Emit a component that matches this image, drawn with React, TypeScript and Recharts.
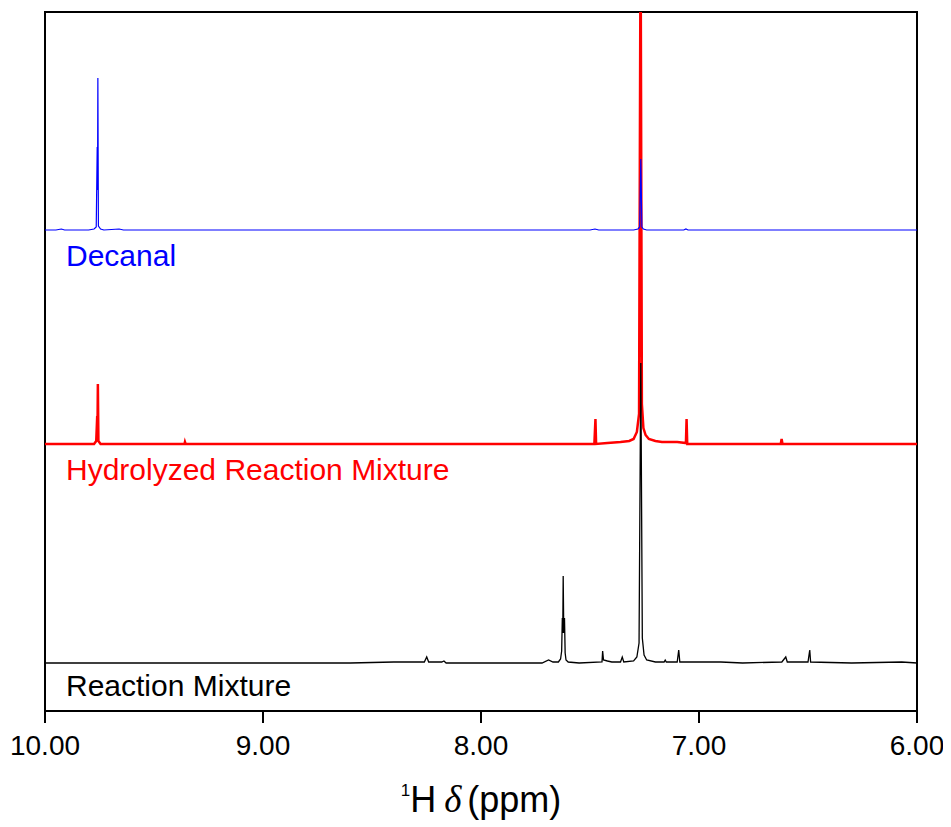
import * as React from "react";
import {
  ComposedChart,
  Line,
  XAxis,
  YAxis,
  ReferenceArea,
} from "recharts";

// [ppm, intensity above the trace's own baseline]
const decanal: [number, number][] = [
  [10.0, 0], [9.95, 0], [9.925, 1], [9.91, 0], [9.8, 0], [9.775, 1],
  [9.765, 3], [9.7605, 83], [9.759, 40], [9.7575, 152], [9.755, 4],
  [9.745, 1], [9.73, 0], [9.66, 1], [9.64, 0], [9.5, 0], [7.5, 0],
  [7.477, 1], [7.46, 0], [7.3, 0], [7.28, 1], [7.272, 3], [7.267, 71],
  [7.262, 3], [7.255, 1], [7.24, 0], [7.07, 0], [7.06, 1], [7.05, 0],
  [6.0, 0],
];

const hydrolyzed: [number, number][] = [
  [10.0, 0], [9.775, 0], [9.765, 3], [9.7605, 28],
  [9.759, 20], [9.7575, 60], [9.755, 3], [9.745, 0],
  [9.36, 0], [9.358, 2], [9.355, 0],
  [7.48, 0], [7.475, 25], [7.472, 0], [7.42, 1], [7.36, 2],
  [7.32, 3], [7.3, 5], [7.285, 12], [7.275, 30], [7.268, 520],
  [7.262, 40], [7.255, 16], [7.245, 9], [7.23, 5], [7.2, 3], [7.17, 2],
  [7.13, 2], [7.1, 2], [7.06, 1], [7.057, 25], [7.054, 0],
  [6.625, 0], [6.621, 5], [6.617, 0], [6.0, 0],
];

const reaction: [number, number][] = [
  [10.0, 0], [8.6, 0], [8.4, 1], [8.26, 1], [8.249, 6], [8.24, 1],
  [8.18, 1], [8.17, 2], [8.16, 0], [7.72, 0], [7.69, 3], [7.67, 1],
  [7.645, 1], [7.635, 4], [7.63, 12], [7.627, 45], [7.625, 30],
  [7.623, 87], [7.621, 45], [7.619, 30], [7.617, 45], [7.614, 10],
  [7.61, 3], [7.6, 1], [7.55, 0], [7.445, 1], [7.442, 12], [7.438, 3],
  [7.42, 2], [7.4, 1], [7.36, 1], [7.352, 6], [7.345, 1], [7.3, 2],
  [7.285, 6], [7.275, 20], [7.267, 300], [7.26, 25], [7.252, 8],
  [7.24, 3], [7.2, 1], [7.16, 1], [7.155, 3], [7.15, 1], [7.1, 1],
  [7.093, 13], [7.088, 1], [7.0, 1], [6.9, 1], [6.8, 0], [6.62, 1],
  [6.602, 6], [6.595, 1], [6.5, 1], [6.492, 13], [6.488, 1], [6.3, 0],
  [6.07, 1], [6.0, 0],
];

// vertical stacking of the three spectra
const OFFSET_DECANAL = 481;
const OFFSET_HYDROLYZED = 267;
const OFFSET_REACTION = 48;

const xTicks = [10, 9, 8, 7, 6];

const FONT = "'Liberation Sans', Arial, sans-serif";

const toRows = (trace: [number, number][], offset: number) =>
  trace.map(([ppm, v]) => ({ ppm, v: v + offset }));

const AxisTitle = (props: any) => {
  const { viewBox } = props;
  const x = viewBox.x + viewBox.width / 2;
  return (
    <text x={x} y={804} textAnchor="middle" fontFamily={FONT} fill="#000">
      <tspan fontSize={17} dy={-16}>1</tspan>
      <tspan fontSize={36} dy={16}>H</tspan>
      <tspan fontSize={37} dx={8} fontStyle="italic" fontFamily="'Liberation Serif', 'Times New Roman', serif">δ</tspan>
      <tspan fontSize={36} dx={6}>(ppm)</tspan>
    </text>
  );
};

const labelStyle = (color: string, top: number): React.CSSProperties => ({
  position: "absolute",
  left: 58,
  top,
  fontFamily: FONT,
  fontSize: 30,
  lineHeight: 1,
  color,
  whiteSpace: "nowrap",
});

export default function App() {
  return (
    <div style={{ position: "relative", width: 935, height: 815 }}>
      <ComposedChart
        width={935}
        height={815}
        margin={{ top: 4, right: 26, left: 37, bottom: 0 }}
      >
        <XAxis
          dataKey="ppm"
          type="number"
          domain={[6, 10]}
          reversed
          allowDataOverflow
          ticks={xTicks}
          tickFormatter={(v: number) => v.toFixed(2)}
          height={112}
          tickSize={12}
          tickMargin={12}
          tick={{ fill: "#000", fontSize: 28, fontFamily: FONT }}
          axisLine={{ stroke: "#000", strokeWidth: 2 }}
          tickLine={{ stroke: "#000", strokeWidth: 2 }}
          label={<AxisTitle />}
        />
        <YAxis type="number" domain={[0, 699]} allowDataOverflow hide />
        <ReferenceArea
          x1={10}
          x2={6}
          y1={0}
          y2={699}
          fill="none"
          stroke="#000"
          strokeWidth={2}
          ifOverflow="visible"
        />
        <Line
          data={toRows(hydrolyzed, OFFSET_HYDROLYZED)}
          dataKey="v"
          type="linear"
          stroke="#ff0000"
          strokeWidth={2.5}
          dot={false}
          isAnimationActive={false}
        />
        <Line
          data={toRows(decanal, OFFSET_DECANAL)}
          dataKey="v"
          type="linear"
          stroke="#0000ff"
          strokeWidth={1.2}
          dot={false}
          isAnimationActive={false}
        />
        <Line
          data={toRows(reaction, OFFSET_REACTION)}
          dataKey="v"
          type="linear"
          stroke="#000"
          strokeWidth={1.3}
          dot={false}
          isAnimationActive={false}
        />
      </ComposedChart>
      <div style={labelStyle("#0000ff", 233)}>Decanal</div>
      <div style={labelStyle("#ff0000", 447)}>Hydrolyzed Reaction Mixture</div>
      <div style={labelStyle("#000", 663)}>Reaction Mixture</div>
    </div>
  );
}
